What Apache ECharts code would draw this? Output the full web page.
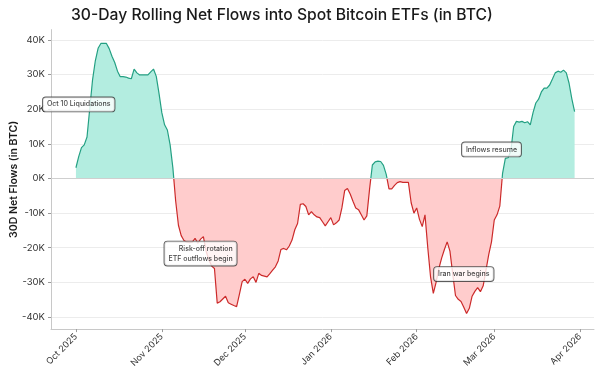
<!DOCTYPE html>
<html>
<head>
<meta charset="utf-8">
<script src="https://cdn.jsdelivr.net/npm/echarts@6/dist/echarts.min.js"></script>
<style>
html,body{margin:0;padding:0;background:#fff;}
#chart{width:600px;height:377px;}
</style>
</head>
<body>
<div id="chart"></div>
<script>
// ---- Data ----
const titleText = '30-Day Rolling Net Flows into Spot Bitcoin ETFs (in BTC)';
const yAxisName = '30D Net Flows (in BTC)';
const startDate = '2025-10-01'; // first daily observation
// 30-day rolling net flows, thousands of BTC, one value per day from Oct 1 2025
const flowsK = [
  3.1, 6.3, 8.9, 9.7, 12.0, 20.3, 28.5, 34.0, 37.6, 39.0,
  39.0, 39.0, 37.5, 35.3, 33.5, 31.0, 29.4, 29.4, 29.3, 29.0,
  28.8, 31.6, 30.5, 29.9, 29.9, 29.9, 29.9, 30.8, 31.6, 29.5,
  24.5, 19.0, 15.5, 14.0, 9.7, 3.0, -6.5, -13.5, -16.5, -17.9,
  -18.4, -18.5, -18.4, -17.3, -18.7, -17.5, -16.8, -21.0, -23.5, -25.3,
  -26.0, -36.0, -35.6, -34.8, -34.0, -35.9, -36.3, -36.7, -37.0, -33.5,
  -29.8, -29.1, -30.3, -29.0, -28.4, -30.0, -27.4, -28.0, -28.2, -28.4,
  -27.5, -26.5, -25.5, -23.8, -20.5, -20.2, -20.6, -19.5, -17.8, -14.8,
  -13.0, -7.5, -7.3, -8.1, -10.5, -9.6, -10.5, -11.1, -11.3, -12.5,
  -13.7, -12.5, -11.3, -13.4, -12.8, -12.0, -8.5, -3.5, -2.9, -4.5,
  -6.6, -8.5, -9.0, -10.5, -12.0, -10.8, -3.0, 3.9, 4.8, 5.0,
  4.9, 3.8, 1.2, -3.0, -3.0, -2.0, -1.2, -0.9, -1.1, -1.1,
  -1.1, -7.0, -10.0, -8.5, -11.8, -13.9, -10.5, -20.0, -28.4, -33.2,
  -30.0, -26.0, -23.0, -20.5, -18.3, -21.0, -27.5, -33.8, -34.9, -35.5,
  -37.2, -39.0, -37.5, -34.0, -32.6, -31.5, -32.7, -31.0, -26.5, -22.0,
  -18.3, -12.0, -10.5, -8.0, 1.5, 5.8, 6.0, 8.0, 15.0, 16.5,
  16.3, 16.5, 16.1, 16.4, 15.5, 19.0, 21.8, 22.9, 25.0, 26.1,
  26.1, 27.0, 28.7, 30.5, 31.0, 30.7, 31.3, 30.5, 27.5, 23.0,
  19.3
];
// annotations: text, anchor date, anchor value (K)
const noteTexts  = ['Oct 10 Liquidations', 'Risk-off rotation\nETF outflows begin', 'Inflows resume', 'Iran war begins'];
const noteDates  = ['2025-10-02', '2025-11-28', '2026-02-28', '2026-02-18'];
const noteValues = [21.4, -21.7, 8.4, -27.6];
const noteAligns = ['center', 'right', 'center', 'center'];
const monthNames = ['Jan','Feb','Mar','Apr','May','Jun','Jul','Aug','Sep','Oct','Nov','Dec'];

// ---- Build ----
const DAY = 86400000;
function toTs(s){ const p = s.split('-').map(Number); return Date.UTC(p[0], p[1]-1, p[2]); }
const t0 = toTs(startDate);
const seriesData = flowsK.map((v, i) => [t0 + i * DAY, v * 1000]);
const notesData = noteTexts.map((t, i) => ({
  value: [toTs(noteDates[i]), noteValues[i] * 1000],
  label: { formatter: t, align: noteAligns[i] }
}));

const FONT = 'Inter, "Noto Sans", sans-serif';
const chart = echarts.init(document.getElementById('chart'), null, {renderer: 'canvas'});
chart.setOption({
  animation: false,
  backgroundColor: '#ffffff',
  useUTC: true,
  title: {
    text: titleText,
    left: 66, top: 2,
    textStyle: { fontFamily: FONT, fontSize: 15.7, fontWeight: 500, color: '#1a1a1a' }
  },
  grid: { left: 51, right: 6, top: 29.6, bottom: 47.9, outerBoundsMode: 'none', containLabel: false },
  xAxis: {
    type: 'time',
    min: Date.UTC(2025, 8, 22),
    max: Date.UTC(2026, 3, 6),
    splitNumber: 7,
    axisLine: { onZero: false, lineStyle: { color: '#c8c8c8', width: 1 } },
    axisTick: { show: true, length: 3, lineStyle: { color: '#9a9a9a' } },
    splitLine: { show: false },
    axisLabel: {
      rotate: 45, fontFamily: FONT, fontSize: 9, color: '#333', margin: 6,
      formatter: function (v) { const d = new Date(v); return monthNames[d.getUTCMonth()] + ' ' + d.getUTCFullYear(); }
    }
  },
  yAxis: {
    type: 'value',
    min: -43500, max: 43000, splitNumber: 9,
    name: yAxisName,
    nameLocation: 'middle',
    nameGap: 32,
    nameMoveOverlap: false,
    nameTextStyle: { fontFamily: FONT, fontSize: 10.5, fontWeight: 600, color: '#1a1a1a' },
    axisLine: { show: true, lineStyle: { color: '#c8c8c8', width: 1 } },
    axisTick: { show: true, length: 3, lineStyle: { color: '#9a9a9a' } },
    splitLine: { show: true, showMinLine: false, showMaxLine: false, lineStyle: { color: '#ececec', width: 1 } },
    axisLabel: {
      fontFamily: FONT, fontSize: 9.5, color: '#333', margin: 6,
      showMinLabel: false, showMaxLabel: false,
      formatter: function (v) { return Math.round(v / 1000) + 'K'; }
    }
  },
  visualMap: [
    { type: 'piecewise', show: false, seriesIndex: 0, dimension: 1,
      pieces: [{ gt: 0, lte: 100000, color: '#b3ede0' }, { gt: -100000, lte: 0, color: '#ffcccc' }] },
    { type: 'piecewise', show: false, seriesIndex: 1, dimension: 1,
      pieces: [{ gt: 0, lte: 100000, color: '#24a083' }, { gt: -100000, lte: 0, color: '#cc2a2a' }] }
  ],
  series: [
    {
      type: 'line', data: seriesData, showSymbol: false, silent: true,
      lineStyle: { width: 0 },
      areaStyle: { opacity: 1 },
      markLine: {
        silent: true, symbol: 'none', label: { show: false },
        lineStyle: { color: '#cfcfcf', width: 1, type: 'solid' },
        data: [{ yAxis: 0 }]
      },
      z: 1
    },
    {
      type: 'line', data: seriesData, showSymbol: false, silent: true,
      lineStyle: { width: 1.2 },
      z: 3
    },
    {
      type: 'scatter', data: notesData, symbolSize: 1, silent: true,
      itemStyle: { color: 'rgba(0,0,0,0)' },
      label: {
        show: true, position: 'inside',
        fontFamily: FONT, fontSize: 7, fontWeight: 500, color: '#111', lineHeight: 10,
        backgroundColor: '#ffffff', borderColor: '#333', borderWidth: 0.9, borderRadius: 3,
        padding: [2, 4, 2, 4]
      },
      z: 5
    }
  ]
});
</script>
</body>
</html>
